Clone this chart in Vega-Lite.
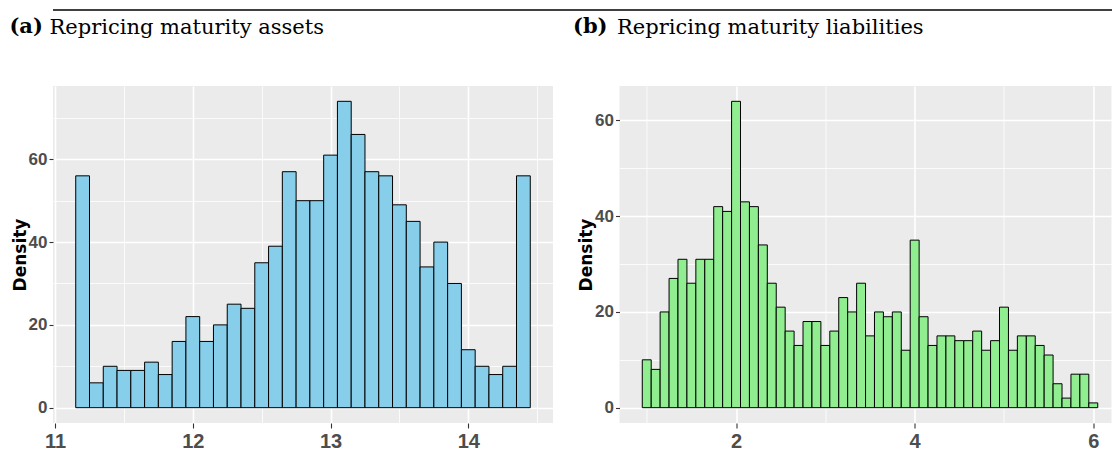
{
  "$schema": "https://vega.github.io/schema/vega-lite/v6.json",
  "padding": 0,
  "background": "white",
  "datasets": {
    "a": [
      {"lo":11.15,"hi":11.25,"d":56},{"lo":11.25,"hi":11.35,"d":6},{"lo":11.35,"hi":11.45,"d":10},
      {"lo":11.45,"hi":11.55,"d":9},{"lo":11.55,"hi":11.65,"d":9},{"lo":11.65,"hi":11.75,"d":11},
      {"lo":11.75,"hi":11.85,"d":8},{"lo":11.85,"hi":11.95,"d":16},{"lo":11.95,"hi":12.05,"d":22},
      {"lo":12.05,"hi":12.15,"d":16},{"lo":12.15,"hi":12.25,"d":20},{"lo":12.25,"hi":12.35,"d":25},
      {"lo":12.35,"hi":12.45,"d":24},{"lo":12.45,"hi":12.55,"d":35},{"lo":12.55,"hi":12.65,"d":39},
      {"lo":12.65,"hi":12.75,"d":57},{"lo":12.75,"hi":12.85,"d":50},{"lo":12.85,"hi":12.95,"d":50},
      {"lo":12.95,"hi":13.05,"d":61},{"lo":13.05,"hi":13.15,"d":74},{"lo":13.15,"hi":13.25,"d":66},
      {"lo":13.25,"hi":13.35,"d":57},{"lo":13.35,"hi":13.45,"d":56},{"lo":13.45,"hi":13.55,"d":49},
      {"lo":13.55,"hi":13.65,"d":45},{"lo":13.65,"hi":13.75,"d":34},{"lo":13.75,"hi":13.85,"d":40},
      {"lo":13.85,"hi":13.95,"d":30},{"lo":13.95,"hi":14.05,"d":14},{"lo":14.05,"hi":14.15,"d":10},
      {"lo":14.15,"hi":14.25,"d":8},{"lo":14.25,"hi":14.35,"d":10},{"lo":14.35,"hi":14.45,"d":56}
    ],
    "b": [
      {"lo":0.95,"hi":1.05,"d":10},{"lo":1.05,"hi":1.15,"d":8},{"lo":1.15,"hi":1.25,"d":20},
      {"lo":1.25,"hi":1.35,"d":27},{"lo":1.35,"hi":1.45,"d":31},{"lo":1.45,"hi":1.55,"d":26},
      {"lo":1.55,"hi":1.65,"d":31},{"lo":1.65,"hi":1.75,"d":31},{"lo":1.75,"hi":1.85,"d":42},
      {"lo":1.85,"hi":1.95,"d":41},{"lo":1.95,"hi":2.05,"d":64},{"lo":2.05,"hi":2.15,"d":43},
      {"lo":2.15,"hi":2.25,"d":42},{"lo":2.25,"hi":2.35,"d":34},{"lo":2.35,"hi":2.45,"d":26},
      {"lo":2.45,"hi":2.55,"d":21},{"lo":2.55,"hi":2.65,"d":16},{"lo":2.65,"hi":2.75,"d":13},
      {"lo":2.75,"hi":2.85,"d":18},{"lo":2.85,"hi":2.95,"d":18},{"lo":2.95,"hi":3.05,"d":13},
      {"lo":3.05,"hi":3.15,"d":16},{"lo":3.15,"hi":3.25,"d":23},{"lo":3.25,"hi":3.35,"d":20},
      {"lo":3.35,"hi":3.45,"d":26},{"lo":3.45,"hi":3.55,"d":15},{"lo":3.55,"hi":3.65,"d":20},
      {"lo":3.65,"hi":3.75,"d":19},{"lo":3.75,"hi":3.85,"d":20},{"lo":3.85,"hi":3.95,"d":12},
      {"lo":3.95,"hi":4.05,"d":35},{"lo":4.05,"hi":4.15,"d":19},{"lo":4.15,"hi":4.25,"d":13},
      {"lo":4.25,"hi":4.35,"d":15},{"lo":4.35,"hi":4.45,"d":15},{"lo":4.45,"hi":4.55,"d":14},
      {"lo":4.55,"hi":4.65,"d":14},{"lo":4.65,"hi":4.75,"d":16},{"lo":4.75,"hi":4.85,"d":12},
      {"lo":4.85,"hi":4.95,"d":14},{"lo":4.95,"hi":5.05,"d":21},{"lo":5.05,"hi":5.15,"d":12},
      {"lo":5.15,"hi":5.25,"d":15},{"lo":5.25,"hi":5.35,"d":15},{"lo":5.35,"hi":5.45,"d":13},
      {"lo":5.45,"hi":5.55,"d":11},{"lo":5.55,"hi":5.65,"d":5},{"lo":5.65,"hi":5.75,"d":2},
      {"lo":5.75,"hi":5.85,"d":7},{"lo":5.85,"hi":5.95,"d":7},{"lo":5.95,"hi":6.05,"d":1}
    ]
  },
  "config": {
    "view": {"stroke": null},
    "axis": {
      "domain": false,
      "gridColor": "white",
      "tickColor": "#333333",
      "tickWidth": 1.1,
      "labelColor": "#4D4D4D",
      "labelFont": "Liberation Sans",
      "labelFontWeight": "bold",
      "labelOverlap": false,
      "labelFlush": false
    }
  },
  "spacing": 5,
  "vconcat": [
    {
      "width": 1112,
      "height": 10,
      "view": {"fill": "white", "stroke": null},
      "data": {"values": [{"v": 0}]},
      "mark": {"type": "rule", "color": "#000000", "strokeWidth": 1.3},
      "encoding": {
        "y": {"field": "v", "type": "quantitative", "scale": {"domain": [0, 1]}, "axis": null}
      }
    },
    {
      "spacing": 19.5,
      "hconcat": [
        {
          "width": 500,
          "height": 337,
          "view": {"fill": "#EBEBEB", "stroke": null},
          "title": {
            "text": "\u200b\u00a0\u200a(a)",
            "anchor": "start",
            "frame": "group",
            "dx": -53,
            "offset": -21.2,
            "font": "DejaVu Serif",
            "fontSize": 21,
            "fontWeight": "bold",
            "color": "#000000"
          },
          "data": {"name": "a"},
          "layer": [
            {
              "mark": {"type": "bar", "opacity": 0},
              "encoding": {
                "x": {"field": "lo", "type": "quantitative",
                      "scale": {"domain": [10.985, 14.615], "nice": false, "zero": false},
                      "axis": {"orient": "top", "values": [11.5, 12.5, 13.5, 14.5], "grid": true, "gridWidth": 0.8, "labels": false, "ticks": false,
                               "title": "Repricing maturity assets", "titleFont": "DejaVu Serif", "titleFontSize": 21, "titleFontWeight": "normal", "titleColor": "#000000",
                               "titleX": -4, "titleY": -53, "titleAlign": "left", "titleBaseline": "alphabetic", "titleAngle": 0}},
                "x2": {"field": "hi"},
                "y": {"field": "d", "type": "quantitative",
                      "scale": {"domain": [-3.7, 77.7], "nice": false, "zero": false},
                      "axis": {"orient": "left", "values": [10, 30, 50, 70], "grid": true, "gridWidth": 0.8, "labels": false, "ticks": false, "title": null}},
                "y2": {"datum": 0}
              }
            },
            {
              "mark": {"type": "bar", "fill": "#87CEEB", "stroke": "#000000", "strokeWidth": 1},
              "encoding": {
                "x": {"field": "lo", "type": "quantitative",
                      "axis": {"orient": "bottom", "values": [11, 12, 13, 14], "grid": true, "gridWidth": 1.6, "title": null, "labelFontSize": 20, "tickSize": 5, "labelPadding": 3.5}},
                "x2": {"field": "hi"},
                "y": {"field": "d", "type": "quantitative",
                      "axis": {"orient": "left", "values": [0, 20, 40, 60], "grid": true, "gridWidth": 1.6, "title": "Density", "titleFont": "DejaVu Sans", "titleFontWeight": "bold", "titleFontSize": 17, "titleColor": "#000000", "titlePadding": -1, "labelFontSize": 17, "tickSize": 4, "labelPadding": 2}},
                "y2": {"datum": 0}
              }
            }
          ],
          "resolve": {"axis": {"x": "independent", "y": "independent"}}
        },
        {
          "width": 492,
          "height": 337,
          "view": {"fill": "#EBEBEB", "stroke": null},
          "title": {
            "text": "(b)",
            "anchor": "start",
            "frame": "group",
            "dx": -46.5,
            "offset": -21.2,
            "font": "DejaVu Serif",
            "fontSize": 21,
            "fontWeight": "bold",
            "color": "#000000"
          },
          "data": {"name": "b"},
          "layer": [
            {
              "mark": {"type": "bar", "opacity": 0},
              "encoding": {
                "x": {"field": "lo", "type": "quantitative",
                      "scale": {"domain": [0.695, 6.204], "nice": false, "zero": false},
                      "axis": {"orient": "top", "values": [1, 3, 5], "grid": true, "gridWidth": 0.8, "labels": false, "ticks": false,
                               "title": "Repricing maturity liabilities", "titleFont": "DejaVu Serif", "titleFontSize": 21, "titleFontWeight": "normal", "titleColor": "#000000",
                               "titleX": -3, "titleY": -53, "titleAlign": "left", "titleBaseline": "alphabetic", "titleAngle": 0}},
                "x2": {"field": "hi"},
                "y": {"field": "d", "type": "quantitative",
                      "scale": {"domain": [-3.2, 67.2], "nice": false, "zero": false},
                      "axis": {"orient": "left", "values": [10, 30, 50], "grid": true, "gridWidth": 0.8, "labels": false, "ticks": false, "title": null}},
                "y2": {"datum": 0}
              }
            },
            {
              "mark": {"type": "bar", "fill": "#90EE90", "stroke": "#000000", "strokeWidth": 1},
              "encoding": {
                "x": {"field": "lo", "type": "quantitative",
                      "axis": {"orient": "bottom", "values": [2, 4, 6], "grid": true, "gridWidth": 1.6, "title": null, "labelFontSize": 20, "tickSize": 5, "labelPadding": 3.5}},
                "x2": {"field": "hi"},
                "y": {"field": "d", "type": "quantitative",
                      "axis": {"orient": "left", "values": [0, 20, 40, 60], "grid": true, "gridWidth": 1.6, "title": "Density", "titleFont": "DejaVu Sans", "titleFontWeight": "bold", "titleFontSize": 17, "titleColor": "#000000", "titlePadding": -1, "labelFontSize": 17, "tickSize": 4, "labelPadding": 2}},
                "y2": {"datum": 0}
              }
            }
          ],
          "resolve": {"axis": {"x": "independent", "y": "independent"}}
        }
      ]
    }
  ]
}
